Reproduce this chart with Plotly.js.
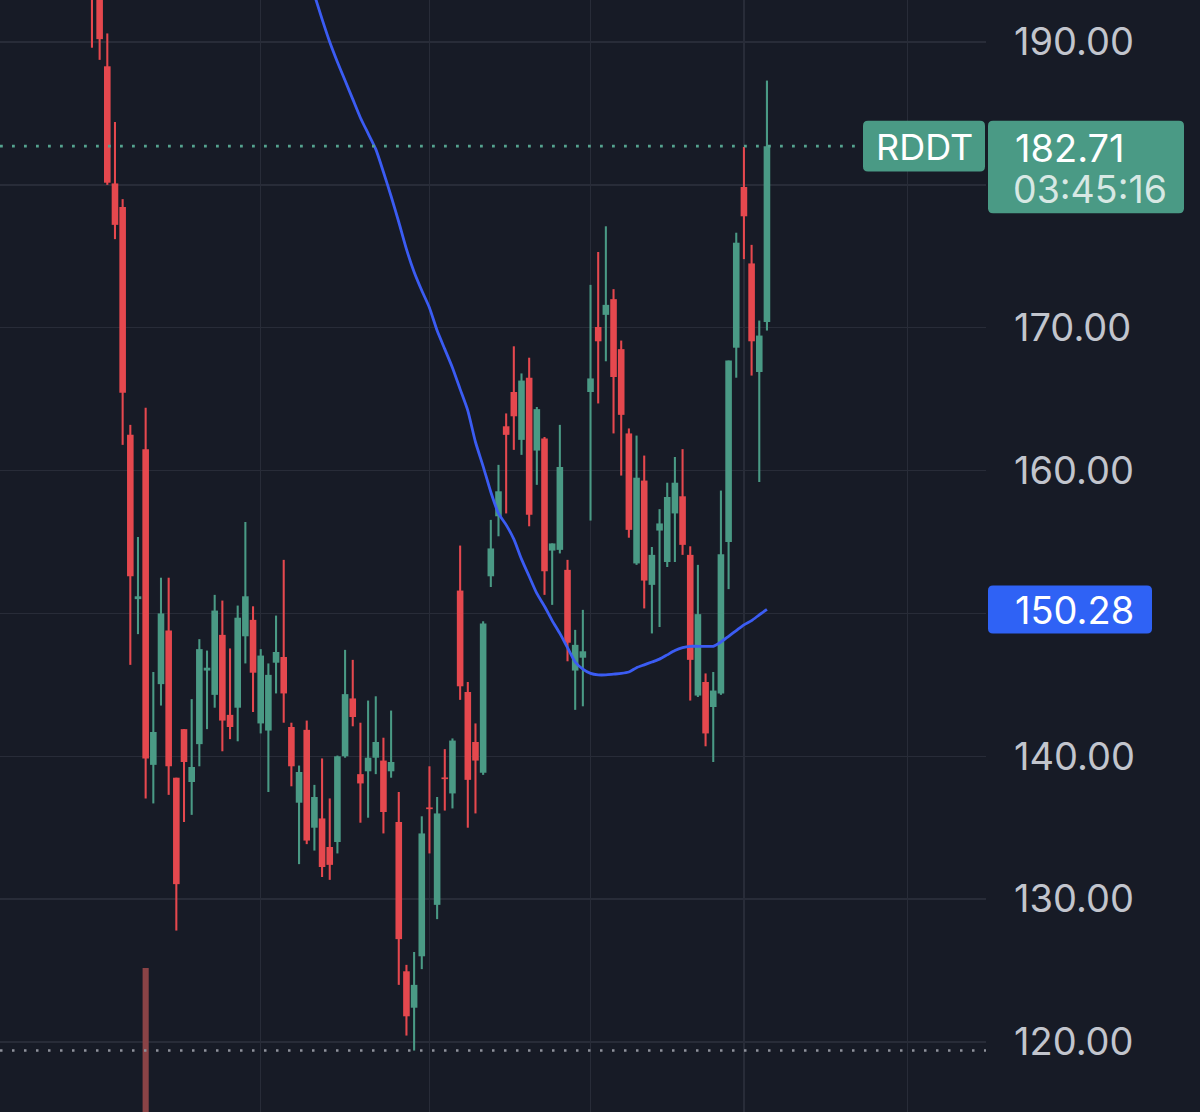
<!DOCTYPE html>
<html>
<head>
<meta charset="utf-8">
<script src="https://cdn.plot.ly/plotly-3.0.1.min.js"></script>
<style>
html,body{margin:0;padding:0;background:#171b26;overflow:hidden;}
#chart{width:1200px;height:1112px;}
</style>
</head>
<body>
<div id="chart"></div>
<script>
// ---- data ----
const ticker = "RDDT";
const countdown = "03:45:16";
const day = [1,2,3,4,5,6,7,8,9,10,11,12,13,14,15,16,17,18,19,20,21,22,23,24,25,26,27,28,29,30,
  31,32,33,34,35,36,37,38,39,40,41,42,43,44,45,46,47,48,49,50,51,52,53,54,55,56,57,58,59,60,
  61,62,63,64,65,66,67,68,69,70,71,72,73,74,75,76,77,78,79,80,81,82,83,84,85,86,87,88,89];
const open = [198.0,195.5,188.3,180.1,178.45,162.5,151.0,161.5,139.4,145.05,
  148.8,138.5,141.9,138.2,140.85,146.0,144.3,148.5,142.9,143.4,
  148.4,149.55,142.3,141.8,146.55,146.95,142.05,136.75,141.85,135.0,
  135.65,133.65,134.0,140.0,144.05,138.75,138.95,139.9,139.7,138.95,
  135.4,124.95,122.4,126.0,136.4,129.6,138.5,137.4,151.6,144.5,
  141.0,138.85,152.6,156.8,163.1,165.5,162.15,166.5,161.4,162.25,
  154.4,154.45,153.05,146.0,146.9,165.5,170.05,170.9,172.0,168.5,
  162.6,153.5,159.3,152.0,155.8,153.6,157.0,158.2,154.1,144.25,
  145.2,143.45,144.4,155.0,168.6,179.85,174.5,166.9,170.4];
const high = [199.0,196.5,190.6,184.4,179.0,163.2,155.35,164.4,145.9,152.5,
  152.5,138.5,141.9,144.0,148.2,147.4,151.3,150.9,147.55,150.55,
  156.4,150.5,147.5,146.5,149.85,153.75,142.35,139.35,142.5,138.0,
  139.85,137.05,140.05,147.45,146.75,142.35,143.9,144.2,141.3,143.2,
  137.5,125.4,126.3,135.8,139.3,137.15,140.5,141.25,154.75,145.2,
  142.3,149.45,156.55,160.4,164.0,168.7,166.8,167.9,164.45,162.35,
  154.9,163.2,153.75,148.85,150.25,173.0,175.3,177.1,172.7,169.1,
  162.95,162.45,161.05,154.65,157.3,159.15,160.95,161.5,154.7,153.4,
  145.8,145.9,158.6,167.7,176.65,182.65,175.8,170.5,187.3];
const low = [189.6,188.75,180.0,176.2,161.8,146.4,148.55,137.05,136.7,143.55,
  137.3,127.8,135.4,135.9,139.3,141.9,143.4,140.35,141.2,141.05,
  146.5,143.1,141.6,137.5,144.4,142.35,137.9,132.45,133.85,133.4,
  131.55,131.35,133.2,139.9,142.1,135.35,135.7,138.75,134.6,138.5,
  124.0,120.45,119.4,125.1,133.2,128.6,136.2,136.35,143.95,135.0,
  136.0,138.7,151.85,155.4,157.0,161.45,161.1,156.1,159.0,151.3,
  150.6,154.2,146.65,143.25,143.5,156.5,164.7,167.65,162.6,159.65,
  155.3,153.4,150.35,148.6,149.05,153.25,153.6,154.1,143.9,144.15,
  140.7,139.6,144.3,151.7,166.5,174.8,166.65,159.2,169.8];
const close = [194.0,190.2,180.15,177.2,165.45,152.6,151.2,139.85,141.7,150.0,
  139.3,131.05,139.6,139.25,147.5,146.2,150.2,142.5,142.05,149.7,
  151.2,145.85,147.05,145.7,147.3,144.4,139.3,138.9,134.1,137.15,
  132.25,132.4,140.0,144.35,142.75,138.1,139.9,141.0,136.1,139.6,
  127.2,121.8,124.0,134.6,136.3,136.0,138.4,141.1,144.9,138.35,
  139.7,149.3,154.55,158.55,162.5,163.8,166.3,156.9,164.3,152.95,
  154.9,160.25,147.95,147.8,147.35,166.45,169.05,171.6,166.55,163.9,
  155.85,159.5,152.3,154.1,156.3,158.15,159.15,154.8,146.75,149.95,
  141.6,144.6,154.15,167.7,175.95,177.8,169.05,169.45,182.71];
// moving average line (blue)
const maDay = [30,31,32,33,34,35,36,37,38,39,40,41,42,43,44,45,46,47,48,49,50,
  51,52,53,54,55,56,57,58,59,60,61,62,63,64,65,66,67,68,69,70,
  71,72,73,74,75,76,77,78,79,80,81,82,83,84,85,86,87,88,89];
const maValue = [193.3,191.6,190.0,188.6,187.3,186.0,184.7,183.6,182.5,180.9,179.2,
  177.4,175.5,173.9,172.6,171.4,169.8,168.5,167.2,165.7,164.2,
  162.0,160.3,158.5,157.0,156.2,155.2,153.8,152.6,151.4,150.5,
  149.5,148.6,147.6,146.6,146.1,145.8,145.7,145.7,145.75,145.8,
  145.9,146.2,146.4,146.6,146.8,147.1,147.4,147.6,147.7,147.7,
  147.7,147.7,148.0,148.4,148.8,149.2,149.5,149.9,150.28];
// single visible volume spike
const volDay = [8];
const volValue = [60];
// axis ticks
const yTicks = [120,130,140,150,160,170,180,190];
const yTickText = ["120.00","130.00","140.00","","160.00","170.00","","190.00"];
const monthStarts = [23,45,66,86,107.3];

// ---- styling / layout ----
const BG = "#171b26";
const UP = "#4a9a85";
const DOWN = "#e5484e";
const GRID = "#282c38";
const W = 1200, H = 1112, PW = 986;
const Y0 = 192.94, Y1 = 115.1;
const PPU = H / (Y0 - Y1);
const FONT = "Inter, 'Noto Sans', sans-serif";

const lastClose = close[close.length - 1];
const maLast = maValue[maValue.length - 1];
const lowest = Math.min(...low);

// candle geometry derived from OHLC
const colors = close.map((c, i) => c >= open[i] ? UP : DOWN);
const bodyBase = close.map((c, i) => Math.min(c, open[i]));
const bodyLen = close.map((c, i) => Math.max(Math.abs(c - open[i]), 0.12));
const wickLen = high.map((h, i) => h - low[i]);

const yPix = v => (Y0 - v) * PPU;
function rrect(x0, y0, x1, y1, r) {
  const P = (x, y) => (x / PW).toFixed(5) + "," + (Y0 - y / PPU).toFixed(4);
  return "M" + P(x0 + r, y0) + " L" + P(x1 - r, y0) + " Q" + P(x1, y0) + " " + P(x1, y0 + r) +
    " L" + P(x1, y1 - r) + " Q" + P(x1, y1) + " " + P(x1 - r, y1) +
    " L" + P(x0 + r, y1) + " Q" + P(x0, y1) + " " + P(x0, y1 - r) +
    " L" + P(x0, y0 + r) + " Q" + P(x0, y0) + " " + P(x0 + r, y0) + " Z";
}

const traces = [
  {
    type: "bar", x: volDay, y: volValue, yaxis: "y2",
    marker: {color: "#8a4346", line: {width: 0}}, width: 0.8,
    hoverinfo: "skip", showlegend: false
  },
  {
    type: "bar", x: day, y: wickLen, base: low, width: 0.27,
    marker: {color: colors, line: {width: 0}},
    hoverinfo: "skip", showlegend: false
  },
  {
    type: "bar", x: day, y: bodyLen, base: bodyBase, width: 0.86,
    marker: {color: colors, line: {width: 0}},
    hoverinfo: "skip", showlegend: false
  },
  {
    type: "scatter", mode: "lines", x: maDay, y: maValue,
    line: {color: "#3b5cf3", width: 2.8, shape: "spline", smoothing: 0.6},
    hoverinfo: "skip", showlegend: false
  }
];

const cy = yPix(lastClose), my = yPix(maLast);
const shapes = [
  {type: "line", xref: "paper", yref: "y", x0: 0, x1: 1, y0: lowest, y1: lowest,
   line: {color: "#8e919b", width: 2.5, dash: "2.5px,9.5px"}, layer: "above"},
  {type: "line", xref: "paper", yref: "y", x0: 0, x1: 862 / PW, y0: lastClose, y1: lastClose,
   line: {color: "#55a38f", width: 2.8, dash: "2.8px,9.2px"}, layer: "above"},
  {type: "path", xref: "paper", yref: "y", path: rrect(863, cy - 25.3, 985, cy + 25.3, 5),
   fillcolor: UP, line: {width: 0}, layer: "above"},
  {type: "path", xref: "paper", yref: "y", path: rrect(988, cy - 25.3, 1184, cy + 67, 5),
   fillcolor: UP, line: {width: 0}, layer: "above"},
  {type: "path", xref: "paper", yref: "y", path: rrect(988, my - 24, 1152, my + 24, 5),
   fillcolor: "#2f62f5", line: {width: 0}, layer: "above"}
];

const annotations = [
  {xref: "paper", yref: "y", x: 924 / PW, y: lastClose, xanchor: "center", yanchor: "middle",
   text: ticker, showarrow: false, font: {family: FONT, size: 36, color: "#ffffff"}, yshift: -1},
  {xref: "paper", yref: "y", x: 1013 / PW, y: lastClose, xanchor: "left", yanchor: "middle",
   text: lastClose.toFixed(2), showarrow: false, font: {family: FONT, size: 38, color: "#ffffff"}, yshift: -2},
  {xref: "paper", yref: "y", x: 1011 / PW, y: lastClose, xanchor: "left", yanchor: "middle",
   text: countdown, showarrow: false, font: {family: FONT, size: 37.5, color: "rgba(255,255,255,0.78)"}, yshift: -43},
  {xref: "paper", yref: "y", x: 1013 / PW, y: maLast, xanchor: "left", yanchor: "middle",
   text: maLast.toFixed(2), showarrow: false, font: {family: FONT, size: 38, color: "#ffffff"}, yshift: -1}
];

const layout = {
  width: W, height: H,
  margin: {l: 0, r: W - PW, t: 0, b: 0, pad: 0},
  paper_bgcolor: BG, plot_bgcolor: BG,
  showlegend: false,
  barmode: "overlay",
  xaxis: {
    type: "linear", range: [-10.99, 117.56], fixedrange: true,
    tickmode: "array", tickvals: monthStarts, showticklabels: false, ticks: "",
    showgrid: true, gridcolor: GRID, gridwidth: 1.5, zeroline: false, showline: false
  },
  yaxis: {
    side: "right", range: [Y1, Y0], fixedrange: true,
    tickmode: "array", tickvals: yTicks, ticktext: yTickText,
    tickfont: {family: FONT, size: 38, color: "#c2c5cd"},
    ticks: "", ticklabelstandoff: 27,
    showgrid: true, gridcolor: GRID, gridwidth: 1.5, zeroline: false, showline: false
  },
  yaxis2: {
    overlaying: "y", side: "right", range: [50, 50 + H / 14.4],
    showgrid: false, showticklabels: false, zeroline: false, ticks: "", fixedrange: true
  },
  shapes: shapes,
  annotations: annotations
};

Plotly.newPlot("chart", traces, layout, {staticPlot: true, displayModeBar: false});
</script>
</body>
</html>
